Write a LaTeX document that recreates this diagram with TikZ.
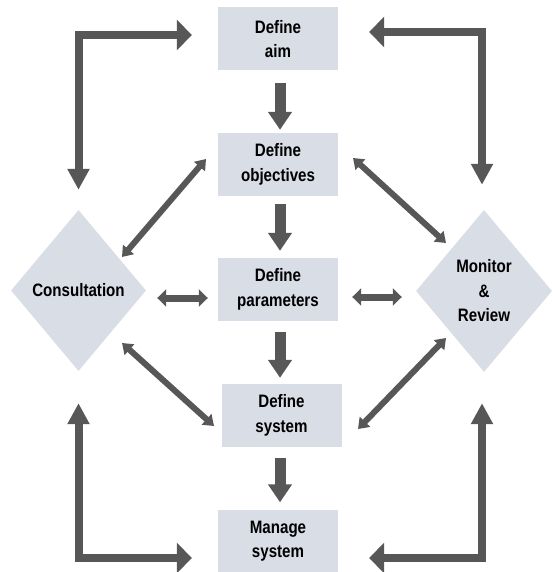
\documentclass[tikz,border=0pt]{standalone}
\usepackage{fontspec}
\setmainfont{Liberation Sans}[FakeStretch=0.84]
\usetikzlibrary{arrows.meta,shapes.geometric}
\definecolor{boxfill}{RGB}{216,221,230}
\definecolor{arr}{RGB}{87,87,87}
\begin{document}
\begin{tikzpicture}[x=1pt,y=-1pt]
\tikzset{
 lbl/.style={font=\bfseries\fontsize{18}{24.5}\selectfont, text=black},
 stepbox/.style={lbl, rectangle, fill=boxfill, minimum width=120pt, minimum height=63pt, inner sep=0pt, align=center},
 dia/.style={lbl, diamond, fill=boxfill, inner sep=0pt, align=center},
 downarr/.style={draw=arr, line width=11pt, -{Triangle[width=23pt,length=18pt]}},
 hdbl/.style={draw=arr, line width=7pt, {Triangle[width=17pt,length=9pt]}-{Triangle[width=17pt,length=9pt]}},
 diag/.style={draw=arr, line width=6pt, {Triangle[width=14pt,length=10pt]}-{Triangle[width=14pt,length=10pt]}},
 elbow/.style={draw=arr, line width=8pt, line join=miter, {Triangle[width=21pt,length=21pt]}-{Triangle[width=30pt,length=15pt]}},
}
\useasboundingbox (0,0) rectangle (553,572);

% boxes
\node[stepbox] (aim) at (278,39) {Define\\aim};
\node[stepbox] (obj) at (278,164.5) {Define\\objectives};
\node[stepbox] (par) at (278,289.5) {Define\\parameters};
\node[stepbox] (sys) at (281.5,415.5) {Define\\system};
\node[stepbox] (man) at (278,541) {Manage\\system};
\node[dia, minimum width=135pt, minimum height=161pt] (cons) at (78.5,290.5) {Consultation};
\node[dia, minimum width=136pt, minimum height=162pt] (mon) at (484,291) {Monitor\\\&\\Review};

% vertical flow arrows
\draw[downarr] ([xshift=2pt,yshift=-12pt]aim.south) -- ([xshift=2pt,yshift=3pt]obj.north);
\draw[downarr] ([xshift=2pt,yshift=-8pt]obj.south) -- ([xshift=2pt,yshift=7pt]par.north);
\draw[downarr] ([xshift=2pt,yshift=-11pt]par.south) -- ([xshift=-1.5pt,yshift=6pt]sys.north);
\draw[downarr] ([xshift=-1.5pt,yshift=-11pt]sys.south) -- ([xshift=2pt,yshift=7pt]man.north);

% horizontal double arrows
\draw[hdbl] ([xshift=11pt,yshift=-7.5pt]cons.east) -- ([xshift=-10pt,yshift=-8.5pt]par.west);
\draw[hdbl] ([xshift=14pt,yshift=-7.5pt]par.east) -- ([xshift=-14pt,yshift=-6pt]mon.west);

% diagonal double arrows
\coordinate (d1a) at (122,257); \coordinate (d1b) at (206,159);
\coordinate (d2a) at (353,158); \coordinate (d2b) at (446,243);
\coordinate (d3a) at (122,343); \coordinate (d3b) at (214,426);
\coordinate (d4a) at (446,338); \coordinate (d4b) at (358,429);
\draw[diag] (d1a) -- (d1b);
\draw[diag] (d2a) -- (d2b);
\draw[diag] (d3a) -- (d3b);
\draw[diag] (d4a) -- (d4b);

% elbow double arrows
\draw[elbow] ([yshift=20pt]cons.north) |- ([xshift=-26pt,yshift=4pt]aim.west);
\draw[elbow] ([xshift=-2pt,yshift=25pt]mon.north) |- ([xshift=31pt,yshift=7pt]aim.east);
\draw[elbow] ([yshift=-32pt]cons.south) |- ([xshift=-26pt,yshift=-17pt]man.west);
\draw[elbow] ([xshift=-2pt,yshift=-31pt]mon.south) |- ([xshift=31pt,yshift=-17pt]man.east);
\end{tikzpicture}
\end{document}
